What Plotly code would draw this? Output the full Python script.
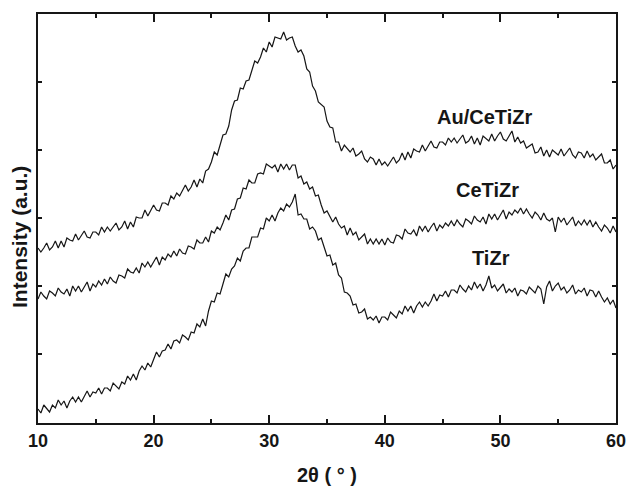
import plotly.graph_objects as go

# 2theta grid, 0.25 degree step from 10 to 60
two_theta = [10 + 0.25 * i for i in range(201)]

au_cetizr = [
    174, 170, 174, 179, 172, 175, 181, 174, 181, 175, 184, 182, 181, 188, 182, 186,
    191, 185, 184, 190, 190, 187, 195, 190, 195, 191, 195, 199, 192, 195, 201, 193,
    200, 195, 205, 204, 204, 212, 206, 212, 217, 212, 211, 219, 219, 217, 226, 223,
    229, 226, 231, 237, 231, 235, 242, 235, 243, 239, 251, 253, 260, 270, 267, 277,
    287, 288, 296, 312, 321, 322, 334, 333, 341, 342, 351, 361, 359, 365, 374, 370,
    380, 375, 385, 384, 383, 390, 382, 384, 385, 376, 370, 372, 366, 353, 350, 336,
    331, 320, 317, 315, 301, 295, 294, 280, 280, 271, 277, 273, 270, 274, 266, 268,
    271, 263, 260, 265, 263, 257, 263, 257, 260, 256, 260, 265, 259, 262, 269, 262,
    270, 264, 273, 271, 270, 277, 271, 276, 281, 275, 274, 280, 280, 277, 284, 280,
    284, 279, 283, 287, 279, 281, 286, 278, 284, 277, 286, 283, 281, 288, 281, 286,
    290, 283, 281, 286, 291, 280, 285, 279, 281, 274, 276, 278, 269, 270, 275, 266,
    272, 265, 272, 269, 267, 273, 266, 270, 274, 267, 264, 270, 269, 264, 271, 265,
    268, 262, 265, 268, 259, 259, 262, 253, 257,
]

cetizr = [
    123, 130, 126, 123, 131, 129, 126, 134, 130, 128, 133, 126, 136, 131, 136, 130,
    135, 140, 131, 138, 135, 141, 137, 143, 138, 145, 141, 139, 147, 146, 144, 153,
    150, 149, 154, 149, 159, 155, 160, 155, 160, 165, 157, 165, 162, 168, 165, 171,
    166, 173, 169, 168, 176, 175, 173, 182, 179, 179, 185, 180, 191, 189, 195, 192,
    199, 207, 202, 212, 213, 223, 224, 234, 233, 242, 239, 239, 248, 249, 248, 258,
    256, 254, 257, 250, 258, 253, 258, 252, 257, 257, 244, 246, 238, 240, 233, 235,
    226, 227, 217, 209, 211, 206, 200, 205, 198, 194, 196, 187, 194, 187, 190, 182,
    185, 188, 178, 183, 178, 183, 178, 183, 177, 184, 180, 179, 187, 186, 183, 193,
    189, 188, 192, 186, 196, 191, 196, 190, 195, 199, 191, 197, 194, 199, 196, 201,
    196, 202, 198, 195, 203, 201, 198, 206, 202, 200, 205, 198, 208, 203, 208, 202,
    207, 212, 203, 210, 207, 212, 209, 214, 208, 213, 208, 204, 210, 207, 202, 209,
    203, 201, 204, 190, 205, 200, 204, 197, 201, 205, 196, 201, 197, 202, 197, 202,
    195, 200, 195, 191, 197, 194, 189, 196, 190,
]

tizr = [
    13, 9, 17, 13, 10, 17, 14, 22, 17, 21, 14, 21, 25, 20, 25, 20,
    25, 31, 25, 30, 29, 34, 28, 34, 34, 31, 39, 36, 33, 40, 38, 46,
    42, 48, 42, 51, 56, 52, 59, 55, 62, 70, 65, 71, 72, 78, 73, 81,
    82, 79, 87, 85, 82, 90, 89, 98, 95, 103, 96, 111, 121, 120, 129, 128,
    138, 148, 145, 153, 156, 164, 161, 171, 174, 174, 185, 185, 185, 194, 193, 204,
    201, 207, 201, 209, 214, 211, 218, 215, 220, 228, 207, 208, 203, 203, 193, 195,
    191, 182, 184, 175, 166, 167, 157, 159, 147, 144, 130, 129, 126, 117, 118, 109,
    110, 113, 103, 105, 102, 106, 99, 105, 105, 102, 110, 107, 104, 111, 108, 116,
    111, 116, 109, 116, 120, 115, 120, 116, 121, 128, 121, 127, 126, 131, 125, 132,
    132, 129, 137, 133, 130, 136, 132, 140, 134, 138, 131, 137, 146, 134, 137, 131,
    134, 138, 129, 133, 130, 134, 126, 132, 131, 128, 135, 132, 129, 136, 133, 118,
    135, 141, 131, 136, 139, 132, 135, 129, 132, 137, 128, 132, 130, 134, 126, 132,
    131, 125, 131, 125, 120, 124, 118, 122, 114,
]

x_ticks = [10, 20, 30, 40, 50, 60]
y_ticks = [0, 68, 136, 204, 272, 340, 408]
series = [("Au/CeTiZr", au_cetizr), ("CeTiZr", cetizr), ("TiZr", tizr)]
labels = [("Au/CeTiZr", 48.6, 305), ("CeTiZr", 48.9, 232), ("TiZr", 49.2, 164)]

FONT = "Liberation Sans, Arial, Helvetica, sans-serif"
INK = "#161616"

fig = go.Figure()
for name, ys in series:
    fig.add_trace(go.Scatter(x=two_theta, y=ys, mode="lines", name=name,
                             line=dict(color=INK, width=1.2), showlegend=False))

for text, x, y in labels:
    fig.add_annotation(x=x, y=y, text=f"<b>{text}</b>", showarrow=False,
                       font=dict(family=FONT, size=20, color=INK))

# axis titles
fig.add_annotation(xref="paper", yref="paper", x=0.5, y=-0.128, yanchor="middle",
                   text="<b>2θ ( ° )</b>", showarrow=False,
                   font=dict(family=FONT, size=20, color=INK))
fig.add_annotation(xref="paper", yref="paper", x=-0.031, y=0.455, xanchor="center",
                   yanchor="middle", textangle=-90,
                   text="<b>Intensity (a.u.)</b>", showarrow=False,
                   font=dict(family=FONT, size=21, color=INK))

fig.update_layout(
    width=627, height=488,
    margin=dict(l=38, r=11, t=14, b=65, autoexpand=False),
    plot_bgcolor="white", paper_bgcolor="white",
    font=dict(family=FONT, color=INK),
)
fig.update_xaxes(
    range=[10, 60], tickvals=x_ticks, ticktext=[f"<b>{v}</b>" for v in x_ticks],
    ticks="inside", ticklen=8, tickwidth=1.5, tickcolor=INK,
    minor=dict(dtick=5, tick0=0, ticks="inside", ticklen=4, tickwidth=1.5, tickcolor=INK),
    showline=True, linewidth=1.8, linecolor=INK, mirror="allticks",
    showgrid=False, zeroline=False, automargin=False,
    tickfont=dict(size=18, family=FONT, color=INK),
)
fig.update_yaxes(
    range=[-1, 408], tickvals=y_ticks, showticklabels=False,
    ticks="inside", ticklen=4, tickwidth=1.5, tickcolor=INK,
    showline=True, linewidth=1.8, linecolor=INK, mirror="allticks",
    showgrid=False, zeroline=False, automargin=False,
)

fig.write_html(
    "out.html",
    config={"displayModeBar": False},
    post_script="document.body.style.margin='0';document.body.style.overflow='hidden';",
)
